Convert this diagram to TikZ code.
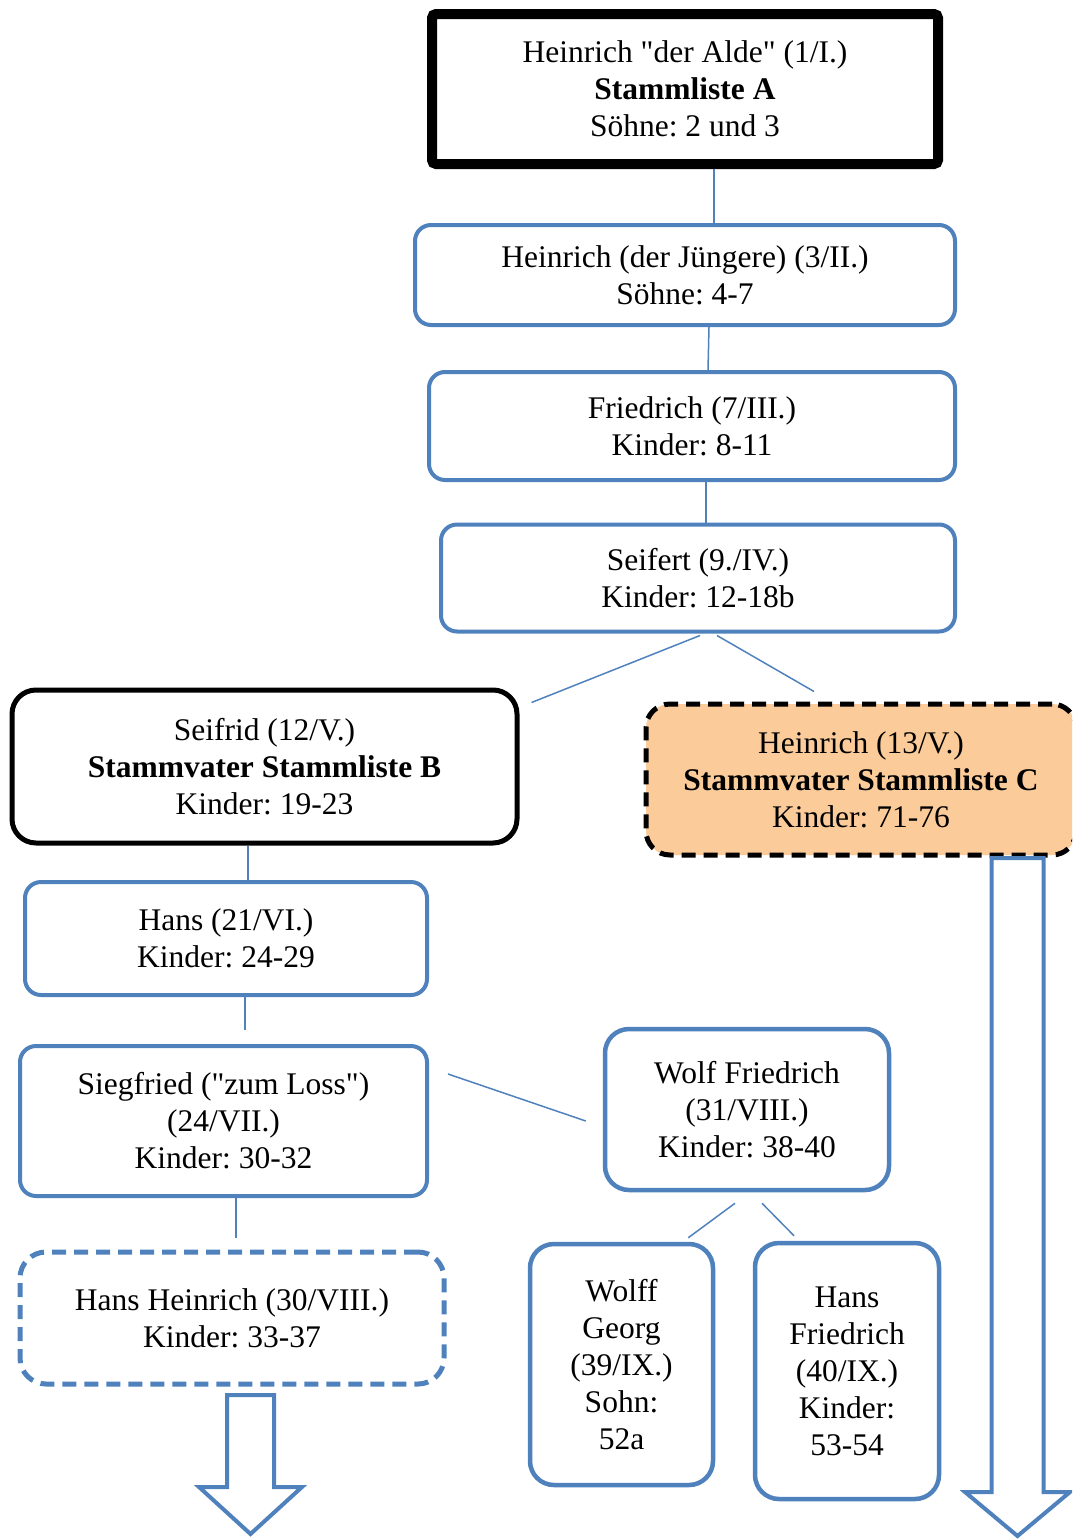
\documentclass[tikz,border=0pt]{standalone}
\usepackage{fontspec}
\setmainfont{Liberation Serif}[Ligatures=TeXOff]
\frenchspacing
\usetikzlibrary{calc}
\definecolor{ofblue}{RGB}{79,129,189}
\definecolor{oforange}{RGB}{251,203,153}
\begin{document}
\begin{tikzpicture}[x=1pt,y=-1pt,
  every node/.style={font=\fontsize{31.5}{37}\selectfont, align=center, inner sep=0pt},
  bluebox/.style={draw=ofblue, line width=4pt, rounded corners=16pt, fill=white},
  bluebox2/.style={draw=ofblue, line width=4.5pt, rounded corners=24pt, fill=white},
  bluedash/.style={draw=ofblue, line width=5pt, rounded corners=26pt, fill=white, dash pattern=on 14pt off 8pt},
  topbox/.style={draw=black, line width=10pt, rounded corners=4pt, fill=white},
  blackbox/.style={draw=black, line width=5pt, rounded corners=24pt, fill=white},
  orangebox/.style={draw=black, line width=5pt, rounded corners=24pt, fill=oforange, dash pattern=on 14pt off 8pt},
  conn/.style={draw=ofblue, line width=1.5pt},
  bigarrow/.style={draw=ofblue, line width=4pt, fill=white, miter limit=10}
]
\useasboundingbox (0,0) rectangle (1072,1540);
\clip (0,0) rectangle (1072,1540);

\node[topbox, minimum width=506pt, minimum height=150pt] (n1) at (685,89)
  {Heinrich "der Alde" (1/I.)\\\textbf{Stammliste A}\\Söhne: 2 und 3};
\node[bluebox, minimum width=540pt, minimum height=100pt] (n2) at (685,275)
  {Heinrich (der Jüngere) (3/II.)\\Söhne: 4-7};
\node[bluebox, minimum width=526pt, minimum height=108pt] (n3) at (692,426)
  {Friedrich (7/III.)\\Kinder: 8-11};
\node[bluebox, minimum width=514pt, minimum height=107pt] (n4) at (698,578)
  {Seifert (9./IV.)\\Kinder: 12-18b};
\node[blackbox, minimum width=505pt, minimum height=153pt] (n5) at (264.5,766.5)
  {Seifrid (12/V.)\\\textbf{Stammvater Stammliste B}\\Kinder: 19-23};
\node[orangebox, minimum width=430pt, minimum height=151pt] (n6) at (861,779.5)
  {Heinrich (13/V.)\\\textbf{Stammvater Stammliste C}\\Kinder: 71-76};
\node[bluebox, minimum width=402pt, minimum height=113pt] (n7) at (226,938.5)
  {Hans (21/VI.)\\Kinder: 24-29};
\node[bluebox, minimum width=407pt, minimum height=150pt] (n8) at (223.5,1121)
  {Siegfried ("zum Loss")\\(24/VII.)\\Kinder: 30-32};
\node[bluebox2, minimum width=284pt, minimum height=161pt] (n9) at (747,1109.5)
  {Wolf Friedrich\\(31/VIII.)\\Kinder: 38-40};
\node[bluedash, minimum width=424pt, minimum height=132pt] (n10) at (232,1318)
  {Hans Heinrich (30/VIII.)\\Kinder: 33-37};
\node[bluebox2, minimum width=183pt, minimum height=241pt] (n11) at (621.5,1364.5)
  {Wolff\\Georg\\(39/IX.)\\Sohn:\\52a};
\node[bluebox2, minimum width=184pt, minimum height=256pt] (n12) at (847,1371)
  {Hans\\Friedrich\\(40/IX.)\\Kinder:\\53-54};

% connectors
\draw[conn] ([xshift=29pt]n1.south) -- ([xshift=29pt]n1.south |- n2.north);
\draw[conn] ([xshift=24pt]n2.south) -- ([xshift=23pt]n2.south |- n3.north);
\draw[conn] ([xshift=14pt]n3.south) -- ([xshift=14pt]n3.south |- n4.north);
\draw[conn] ([xshift=2pt,yshift=-2pt]n4.south) -- ([xshift=12pt,yshift=-15pt]n5.north east);
\draw[conn] ([xshift=19pt,yshift=-2pt]n4.south) -- ([xshift=-47pt,yshift=10pt]n6.north);
\draw[conn] ([xshift=-16.5pt]n5.south) -- ([xshift=-16.5pt]n5.south |- n7.north);
\draw[conn] ([xshift=19pt]n7.south) -- ([xshift=19pt,yshift=14pt]n7.south |- n8.north);
\draw[conn] ([xshift=19pt,yshift=47pt]n8.east) -- ([xshift=-17pt,yshift=-11.5pt]n9.west);
\draw[conn] ([xshift=12.5pt,yshift=4pt]n8.south) -- ([xshift=12.5pt,yshift=12pt]n8.south |- n10.north);
\draw[conn] ([xshift=-12pt,yshift=-11pt]n9.south) -- ([xshift=-27pt,yshift=4pt]n11.north east);
\draw[conn] ([xshift=15pt,yshift=-11pt]n9.south) -- ([xshift=-53pt,yshift=5pt]n12.north);

% big hollow arrows
\draw[bigarrow] (227,1395) -- (274,1395) -- (274,1487) -- (302,1487) -- (250.5,1534)
  -- (199,1487) -- (227,1487) -- cycle;
\draw[bigarrow] (991.5,858) -- (1043.5,858) -- (1043.5,1492) -- (1070,1492) -- (1017.5,1536)
  -- (965,1492) -- (991.5,1492) -- cycle;
\end{tikzpicture}
\end{document}
